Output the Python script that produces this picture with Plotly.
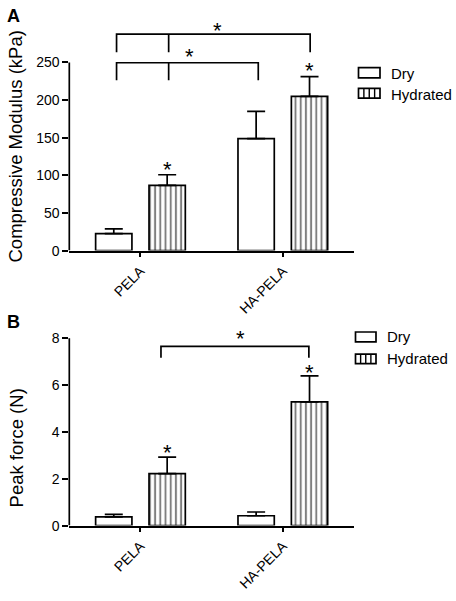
import plotly.graph_objects as go

# ---------------- data ----------------
categories = ["PELA", "HA-PELA"]
series_names = ["Dry", "Hydrated"]

modulus_dry = [22.6, 148.8]
modulus_dry_err = [6.2, 36.2]
modulus_hyd = [86.8, 205.0]
modulus_hyd_err = [14.0, 26.2]

force_dry = [0.37, 0.42]
force_dry_err = [0.11, 0.16]
force_hyd = [2.22, 5.28]
force_hyd_err = [0.70, 1.11]

modulus_ticks = [0, 50, 100, 150, 200, 250]
force_ticks = [0, 2, 4, 6, 8]

# significance brackets: (x legs), y of bar, y of leg ends
mod_brackets = [
    {"xs": [-0.168, 0.198, 1.192], "ytop": 287.6, "ybot": 263.5, "star": (0.542, 300.2)},
    {"xs": [-0.168, 0.198, 0.8275], "ytop": 249.6, "ybot": 226.4, "star": (0.346, 265.2)},
]
mod_bar_stars = [(0.189, 115.8), (1.187, 247.8)]

force_brackets = [
    {"xs": [0.144, 1.183], "ytop": 7.65, "ybot": 7.16, "star": (0.702, 8.25)},
]
force_bar_stars = [(0.187, 3.37), (1.19, 6.78)]

# ---------------- layout helpers ----------------
W, H = 456, 601
FONT = "Liberation Sans, Arial, sans-serif"
LW = 1.7

def px(x):
    return x / W

def py(y):
    return 1 - y / H

x_dom = [px(69.3), px(354.0)]
ya_dom = [py(254.0), py(17.5)]
yb_dom = [py(532.7), py(328.5)]

xpos = list(range(len(categories)))

fig = go.Figure()

def add_bars(dry, dry_err, hyd, hyd_err, xa, ya):
    fig.add_trace(go.Bar(
        x=xpos, y=dry, name=series_names[0], xaxis=xa, yaxis=ya,
        offsetgroup="dry", showlegend=False,
        marker=dict(color="white", line=dict(color="black", width=LW)),
        error_y=dict(type="data", array=dry_err, arrayminus=[0] * len(dry),
                     symmetric=False, color="black", thickness=LW, width=9),
    ))
    fig.add_trace(go.Bar(
        x=xpos, y=hyd, name=series_names[1], xaxis=xa, yaxis=ya,
        offsetgroup="hyd", showlegend=False,
        marker=dict(color="white", line=dict(color="black", width=LW),
                    pattern=dict(shape="|", size=5.2, solidity=0.38,
                                 fgcolor="black", bgcolor="white")),
        error_y=dict(type="data", array=hyd_err, arrayminus=[0] * len(hyd),
                     symmetric=False, color="black", thickness=LW, width=9),
    ))

add_bars(modulus_dry, modulus_dry_err, modulus_hyd, modulus_hyd_err, "x", "y")
add_bars(force_dry, force_dry_err, force_hyd, force_hyd_err, "x2", "y2")

xaxis_common = dict(
    range=[-0.5, 1.5], domain=x_dom, tickmode="array", tickvals=xpos,
    ticktext=categories, tickangle=-45, ticks="outside", ticklen=5,
    tickwidth=LW, tickcolor="black", showline=True, linecolor="black",
    linewidth=LW, showgrid=False, zeroline=False,
    tickfont=dict(family=FONT, size=14, color="black"),
)
yaxis_common = dict(
    ticks="outside", ticklen=6, tickwidth=LW, tickcolor="black",
    showline=False, showgrid=False, zeroline=False, tickmode="array",
    tickfont=dict(family=FONT, size=14, color="black"),
)

fig.update_layout(
    width=W, height=H, margin=dict(l=0, r=0, t=0, b=0),
    paper_bgcolor="white", plot_bgcolor="white",
    barmode="group", bargap=0.25, bargroupgap=0.32,
    showlegend=False,
    xaxis=dict(anchor="y", **xaxis_common),
    xaxis2=dict(anchor="y2", **xaxis_common),
    yaxis=dict(anchor="x", domain=ya_dom, range=[0, 310],
               tickvals=modulus_ticks, **yaxis_common),
    yaxis2=dict(anchor="x2", domain=yb_dom, range=[0, 8.6],
                tickvals=force_ticks, **yaxis_common),
)

shapes = []
annotations = []

# y-axis lines (stop at the top tick)
shapes.append(dict(type="line", xref="x domain", yref="y", x0=0, x1=0,
                   y0=modulus_ticks[0], y1=modulus_ticks[-1],
                   line=dict(color="black", width=LW)))
shapes.append(dict(type="line", xref="x2 domain", yref="y2", x0=0, x1=0,
                   y0=force_ticks[0], y1=force_ticks[-1],
                   line=dict(color="black", width=LW)))

STAR_SIZE = 22
STAR_SHIFT = -6

def star(sx, sy, xr, yr):
    annotations.append(dict(x=sx, y=sy, xref=xr, yref=yr, text="*",
                            showarrow=False, yanchor="middle", yshift=STAR_SHIFT,
                            font=dict(family=FONT, size=STAR_SIZE, color="black")))

def add_brackets(brs, xr, yr):
    for b in brs:
        xs = b["xs"]
        d = "M {l},{yb} L {l},{yt} L {r},{yt} L {r},{yb}".format(
            l=xs[0], r=xs[-1], yt=b["ytop"], yb=b["ybot"])
        for m in xs[1:-1]:
            d += " M {m},{yt} L {m},{yb}".format(m=m, yt=b["ytop"], yb=b["ybot"])
        shapes.append(dict(type="path", xref=xr, yref=yr, path=d,
                           line=dict(color="black", width=LW)))
        star(b["star"][0], b["star"][1], xr, yr)

add_brackets(mod_brackets, "x", "y")
for sx, sy in mod_bar_stars:
    star(sx, sy, "x", "y")
add_brackets(force_brackets, "x2", "y2")
for sx, sy in force_bar_stars:
    star(sx, sy, "x2", "y2")

# manual legends
def add_legend(x0, x1, rows):
    for (yt, yb, ytext, name, hatched) in rows:
        shapes.append(dict(type="rect", xref="paper", yref="paper",
                           x0=px(x0), x1=px(x1), y0=py(yb), y1=py(yt),
                           fillcolor="white", line=dict(color="black", width=LW)))
        if hatched:
            for k in (1, 2, 3):
                xx = x0 + (x1 - x0) * k / 4
                shapes.append(dict(type="line", xref="paper", yref="paper",
                                   x0=px(xx), x1=px(xx), y0=py(yb), y1=py(yt),
                                   line=dict(color="black", width=1.4)))
        annotations.append(dict(x=px(x1 + 9), y=py(ytext), xref="paper", yref="paper",
                                text=name, showarrow=False, xanchor="left", yanchor="middle",
                                font=dict(family=FONT, size=15, color="black")))

add_legend(358.5, 380.0, [(68.5, 79.0, 74.0, series_names[0], False),
                          (89.5, 99.5, 95.5, series_names[1], True)])
add_legend(355.5, 376.0, [(336.5, 346.5, 341.5, series_names[0], False),
                          (359.0, 368.5, 363.5, series_names[1], True)])

# axis titles
annotations.append(dict(x=px(16.0), y=py(148.5), xref="paper", yref="paper",
                        text="Compressive Modulus (kPa)", textangle=-90, showarrow=False,
                        xanchor="center", yanchor="middle",
                        font=dict(family=FONT, size=18.5, color="black")))
annotations.append(dict(x=px(16.5), y=py(454.0), xref="paper", yref="paper",
                        text="Peak force (N)", textangle=-90, showarrow=False,
                        xanchor="center", yanchor="middle",
                        font=dict(family=FONT, size=18.5, color="black")))

# panel letters
annotations.append(dict(x=px(13.5), y=py(16.0), xref="paper", yref="paper",
                        text="<b>A</b>", showarrow=False, xanchor="center", yanchor="middle",
                        font=dict(family=FONT, size=18, color="black")))
annotations.append(dict(x=px(13.7), y=py(326.7), xref="paper", yref="paper",
                        text="<b>B</b>", showarrow=False, xanchor="center", yanchor="middle",
                        font=dict(family=FONT, size=18, color="black")))

fig.update_layout(shapes=shapes, annotations=annotations)

# the page's default 8px body margin would push the figure off the window
fig.write_html("out.html",
               config={"displayModeBar": False},
               post_script="document.body.style.margin='0px';")
